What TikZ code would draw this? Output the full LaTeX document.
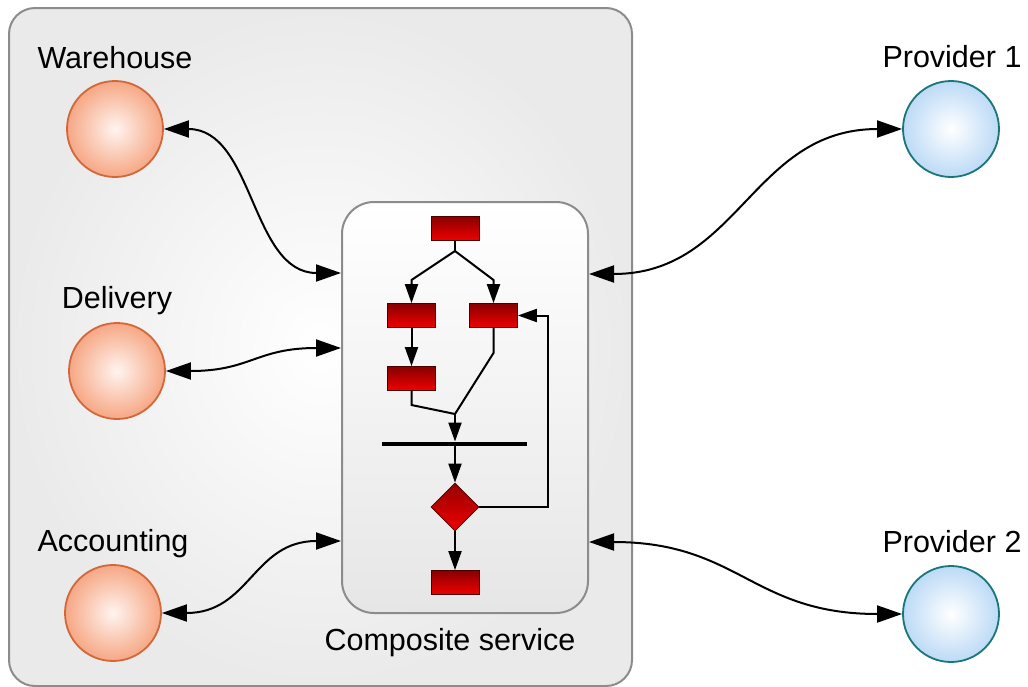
\documentclass[tikz,border=0pt]{standalone}
\usepackage{fontspec}
\setmainfont{Liberation Sans}
\usetikzlibrary{arrows.meta,shapes.geometric}
\definecolor{boxgray}{HTML}{8C8C8C}
\definecolor{outergray}{HTML}{EAEAEA}
\definecolor{compgray}{HTML}{E6E6E6}
\definecolor{orgin}{HTML}{FFF4F0}
\definecolor{orgout}{HTML}{F6A784}
\definecolor{orgline}{HTML}{D2683A}
\definecolor{bluin}{HTML}{FFFFFF}
\definecolor{bluout}{HTML}{BCDAF6}
\definecolor{bluline}{HTML}{19777A}
\definecolor{redtop}{HTML}{880000}
\definecolor{redbot}{HTML}{F00000}
\definecolor{redline}{HTML}{4A0000}
\tikzset{
  lbl/.style={anchor=base, inner sep=0pt, font=\fontsize{30.5}{36}\selectfont},
  orgcirc/.style={circle, minimum size=96pt, inner sep=0pt, draw=orgline, line width=1.8pt, shading=radial, inner color=orgin, outer color=orgout},
  blucirc/.style={circle, minimum size=96pt, inner sep=0pt, draw=bluline, line width=1.8pt, shading=radial, inner color=bluin, outer color=bluout},
  actbox/.style={rectangle, minimum width=48pt, minimum height=24pt, inner sep=0pt, draw=redline, line width=0.8pt, top color=redtop, bottom color=redbot},
  decbox/.style={diamond, minimum width=48pt, minimum height=48pt, inner sep=0pt, draw=redline, line width=0.8pt, top color=redtop!90!red, bottom color=redbot},
  dbl/.style={line width=2pt, {Triangle[length=25pt,width=17pt]}-{Triangle[length=25pt,width=17pt]}},
  iarr/.style={line width=2pt, -{Triangle[length=19pt,width=13pt]}},
  iline/.style={line width=2pt}
}
\begin{document}
\begin{tikzpicture}[x=1pt,y=-1pt]
\useasboundingbox (0,0) rectangle (1028,686);
\fill[white] (0,0) rectangle (1028,686);
% outer container
\node[rectangle, rounded corners=26pt, minimum width=623pt, minimum height=678pt, draw=boxgray, line width=2pt, shading=radial, inner color=white, outer color=outergray] (outer) at (320.5,347) {};
% composite service box
\node[rectangle, rounded corners=32pt, minimum width=246pt, minimum height=411pt, draw=boxgray, line width=2pt, top color=white, bottom color=compgray] (comp) at (465,407.5) {};
\node[lbl] (complbl) at (450,650) {Composite service};
% circles
\node[orgcirc] (wh) at (115,129) {};
\node[orgcirc] (dl) at (117,371) {};
\node[orgcirc] (ac) at (113,613) {};
\node[blucirc] (p1) at (951,129) {};
\node[blucirc] (p2) at (951,614) {};
\node[lbl] (whl) at (115,68) {Warehouse};
\node[lbl] (dll) at (117,308) {Delivery};
\node[lbl] (acl) at (113,551) {Accounting};
\node[lbl] (p1l) at (952,67) {Provider 1};
\node[lbl] (p2l) at (952,552) {Provider 2};
% connection points on the composite box
\coordinate (cwh) at (341,273);
\coordinate (cdl) at (341,348);
\coordinate (cac) at (341,541);
\coordinate (cp1) at (589,274);
\coordinate (cp2) at (589,542);
% outer connectors
\draw[dbl] (wh.east) .. controls +(90,0) and +(-90,0) .. (cwh);
\draw[dbl] (dl.east) .. controls +(85,0) and +(-85,0) .. (cdl);
\draw[dbl] (ac.east) .. controls +(88,0) and +(-88,0) .. (cac);
\draw[dbl] (cp1) .. controls +(150,0) and +(-150,0) .. (p1.west);
\draw[dbl] (cp2) .. controls +(150,0) and +(-150,0) .. (p2.west);
% workflow
\node[actbox] (t1) at (455,228.5) {};
\node[actbox] (a1) at (411.5,315.5) {};
\node[actbox] (b1) at (493.5,315.5) {};
\node[actbox] (a2) at (411.5,378.5) {};
\node[rectangle, fill=black, minimum width=145pt, minimum height=4.5pt, inner sep=0pt] (bar) at (454.5,444) {};
\node[decbox] (dec) at (455,507) {};
\node[actbox] (t4) at (455,582.5) {};
\coordinate (split) at (455,251);
\coordinate (join) at (455,414);
\draw[iline] (t1.south) -- (split);
\draw[iarr] (split) -- (411.5,280) -- (a1.north);
\draw[iarr] (split) -- (493.5,280) -- (b1.north);
\draw[iarr] (a1.south) -- (a2.north);
\draw[iline] (a2.south) -- (411.5,405) -- (join);
\draw[iline] (b1.south) -- (493.5,353) -- (join);
\draw[iarr] (join) -- (bar.north -| join);
\draw[iarr] (bar.south -| dec.north) -- (dec.north);
\draw[iarr] (dec.east) -- (548,507) |- (b1.east);
\draw[iarr] (dec.south) -- (t4.north);
\end{tikzpicture}
\end{document}
